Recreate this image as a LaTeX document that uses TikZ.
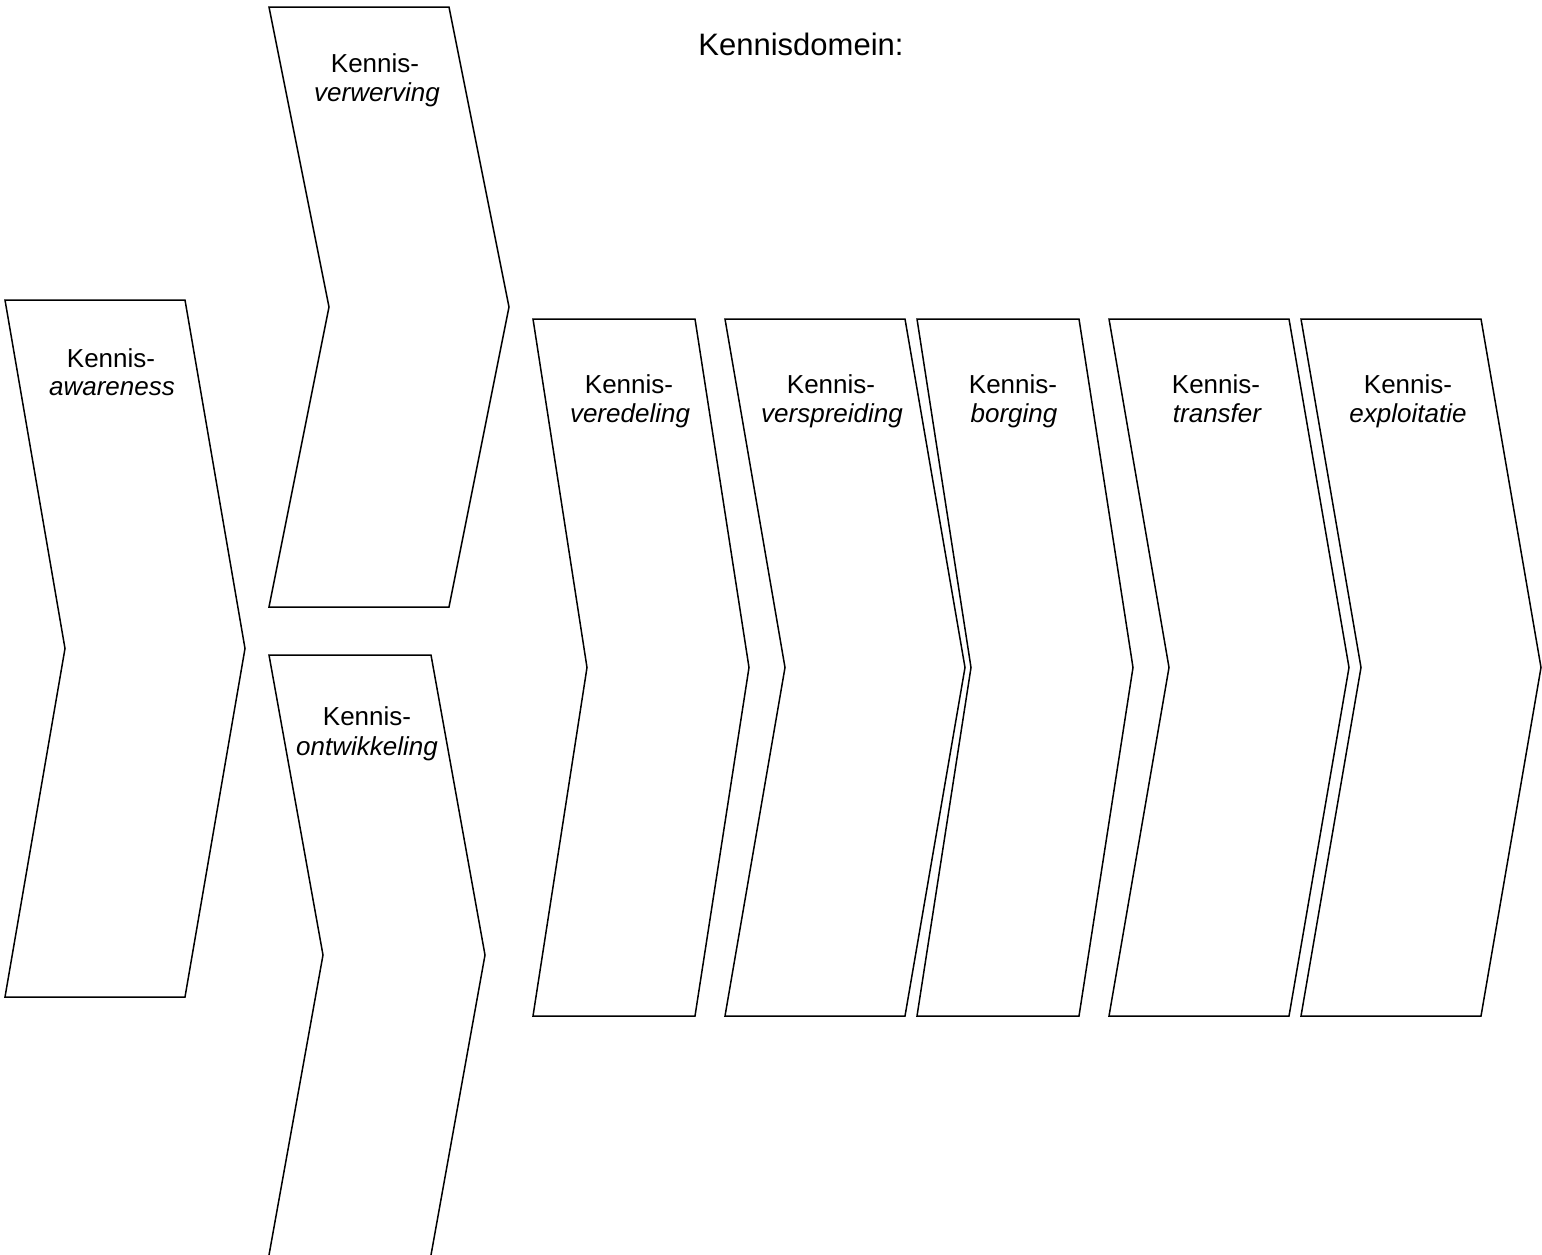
\documentclass[tikz,border=0pt]{standalone}
\usepackage{fontspec}
\setmainfont{Liberation Sans}
\newcommand\chevshape[5]{%
  \draw[shp] (#1,#2) -- ++(#3,0) -- ++(#4,#5/2) -- ++(-#4,#5/2) -- ++(-#3,0) -- ++(#4,-#5/2) -- cycle;}
\begin{document}
\begin{tikzpicture}[x=1pt,y=-1pt,
  shp/.style={draw=black,line width=1.5pt,line join=miter,fill=white},
  lbl/.style={font=\fontsize{26}{30}\selectfont,inner sep=0pt,anchor=base},
  ttl/.style={font=\fontsize{31}{36}\selectfont,inner sep=0pt,anchor=base}]
\useasboundingbox (0,0) rectangle (1542,1254);
\clip (0,0) rectangle (1542,1254);
% shapes
\chevshape{5}{300}{180}{60}{697}
\chevshape{269}{7}{180}{60}{600}
\draw[shp] (269,655) -- (431,655) -- (485,955) -- (428.3,1270) -- (266.3,1270) -- (323,955) -- cycle;
\chevshape{533}{319}{162}{54}{697}
\chevshape{725}{319}{180}{60}{697}
\chevshape{917}{319}{162}{54}{697}
\chevshape{1109}{319}{180}{60}{697}
\chevshape{1301}{319}{180}{60}{697}
% title
\node[ttl] (title) at (801,55) {Kennisdomein:};
% labels
\node[lbl] (a1) at (111,367) {Kennis-};
\node[lbl] (a2) at (112,395) {\itshape awareness};
\node[lbl] (b1) at (375,72) {Kennis-};
\node[lbl] (b2) at (377,101) {\itshape verwerving};
\node[lbl] (c1) at (367,725) {Kennis-};
\node[lbl] (c2) at (367,755) {\itshape ontwikkeling};
\node[lbl] (d1) at (629,393) {Kennis-};
\node[lbl] (d2) at (630,422) {\itshape veredeling};
\node[lbl] (e1) at (831,393) {Kennis-};
\node[lbl] (e2) at (832,422) {\itshape verspreiding};
\node[lbl] (f1) at (1013,393) {Kennis-};
\node[lbl] (f2) at (1014,422) {\itshape borging};
\node[lbl] (g1) at (1216,393) {Kennis-};
\node[lbl] (g2) at (1217,422) {\itshape transfer};
\node[lbl] (h1) at (1408,393) {Kennis-};
\node[lbl] (h2) at (1408,422) {\itshape exploitatie};
\end{tikzpicture}
\end{document}
